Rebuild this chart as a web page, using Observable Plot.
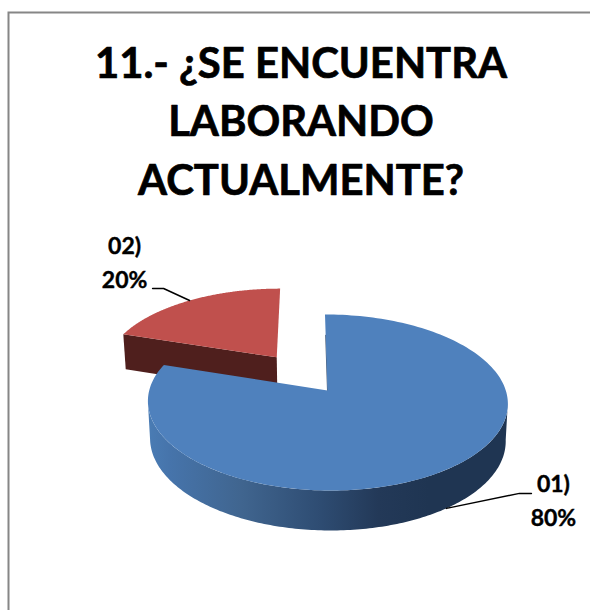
<!DOCTYPE html>
<html>
<head>
<meta charset="utf-8">
<script src="https://cdn.jsdelivr.net/npm/d3@7"></script>
<script src="https://cdn.jsdelivr.net/npm/@observablehq/plot@0.6"></script>
<style>html,body{margin:0;padding:0;background:#fff}</style>
</head>
<body>
<div id="chart"></div>
<script>
const titleLines = ["11.- ¿SE ENCUENTRA", "LABORANDO", "ACTUALMENTE?"];
const categories = ["01)", "02)"];
const values = [80, 20];
const topColors = ["#4f81bd", "#c0504d"];
const wallColors = ["url(#blueWall)", "#4f1f1d"];
const explode = [0, 0.5];

// Perspective model of the tilted pie
const apex = [327, 390], a = 178.3, b = 86.4, k = 0.136, skew = 0.033, thick = 36.9;
function project(wx, wz, lower) {
  const den = 1 + k * wz;
  const X = a * wx / den, Y = b * wz / den;
  const d = lower ? thick * Math.pow(den, -0.55) : 0;
  const f = lower ? 0.988 : 1;
  return {x: apex[0] + f * X - skew * Y, y: apex[1] - Y + d};
}
const total = d3.sum(values);
const slices = [];
let cum = 0;
values.forEach((v, i) => {
  const t0 = cum / total * 2 * Math.PI, t1 = (cum + v) / total * 2 * Math.PI;
  cum += v;
  const mid = (t0 + t1) / 2;
  slices.push({i, t0, t1, mid, ex: explode[i] * Math.sin(mid), ez: explode[i] * Math.cos(mid)});
});
const arcBetween = (s, t0, t1, lower) => d3.range(0, 181).map(j => {
  const t = t0 + (t1 - t0) * j / 180;
  return project(s.ex + Math.sin(t), s.ez + Math.cos(t), lower);
});
const arc = (s, lower) => arcBetween(s, s.t0, s.t1, lower);
const centre = (s, lower) => project(s.ex, s.ez, lower);
const edge = (s, t, r, lower) => project(s.ex + r * Math.sin(t), s.ez + r * Math.cos(t), lower);

const [blue, red] = slices;
// the visible outer wall runs between the two silhouette angles of the ellipse
const silhouette0 = Math.acos(-k), silhouette1 = 2 * Math.PI - silhouette0;
const redWall = [edge(red, red.t0, 0, false), edge(red, red.t0, 1, false), edge(red, red.t0, 1, true), edge(red, red.t0, 0, true)];
const redTop = [centre(red), ...arc(red)];
const blueWall = [...arcBetween(blue, silhouette0, silhouette1, false), ...arcBetween(blue, silhouette0, silhouette1, true).reverse()];
const blueTop = [centre(blue), ...arc(blue)];
const blueSliver = [edge(blue, blue.t0, 0, false), edge(blue, blue.t0, 0.7, false)];

const anchorBlue = edge(blue, blue.mid, 1, true);
const anchorRed = edge(red, red.mid, 1, false);
const leaderBlue = [anchorBlue, {x: anchorBlue.x + 73, y: anchorBlue.y - 15}, {x: anchorBlue.x + 85, y: anchorBlue.y - 15}];
const leaderRed = [anchorRed, {x: anchorRed.x - 26, y: anchorRed.y - 12}, {x: anchorRed.x - 37, y: anchorRed.y - 12}];

const poly = (pts, o) => Plot.line(pts, {x: "x", y: "y", curve: "linear", ...o});
const labelFont = {fontFamily: "Lato", fontWeight: 700, fontSize: 23, fill: "#000", stroke: "#000", strokeWidth: 0.4, lineAnchor: "bottom", textAnchor: "middle"};

const chart = Plot.plot({
  width: 590, height: 610, margin: 0,
  x: {domain: [0, 590], range: [0, 590], axis: null},
  y: {domain: [0, 610], range: [0, 610], axis: null},
  style: {background: "#fff", fontFamily: "Lato"},
  marks: [
    () => {
      const ns = "http://www.w3.org/2000/svg";
      const defs = document.createElementNS(ns, "defs");
      const g = document.createElementNS(ns, "linearGradient");
      g.setAttribute("id", "blueWall");
      [[0, "#4a7cb4"], [0.06, "#4674ab"], [0.26, "#40658f"], [0.48, "#2e4c72"], [0.64, "#233958"], [0.78, "#1f3552"], [1, "#1f3552"]].forEach(([o, c]) => {
        const st = document.createElementNS(ns, "stop");
        st.setAttribute("offset", o); st.setAttribute("stop-color", c);
        g.appendChild(st);
      });
      defs.appendChild(g);
      return defs;
    },
    Plot.frame({insetLeft: 8, insetTop: 12, insetRight: -6, insetBottom: -6, stroke: "#868686", strokeWidth: 2}),
    Plot.text(titleLines, {x: () => 300.5, y: (d, i) => [77, 135, 194][i], text: d => d, fontFamily: "Lato", fontWeight: 700, fontSize: 41.8, fill: "#000", stroke: "#000", strokeWidth: 0.7, lineAnchor: "bottom"}),
    poly(redWall, {fill: wallColors[1], stroke: "none"}),
    poly(redTop, {fill: topColors[1], stroke: "none"}),
    poly(blueWall, {fill: wallColors[0], stroke: "none"}),
    poly(blueSliver, {stroke: "#1f3552", strokeWidth: 1, strokeOpacity: 0.8}),
    poly(blueTop, {fill: topColors[0], stroke: "none"}),
    poly(leaderBlue, {stroke: "#000", strokeWidth: 1.5}),
    poly(leaderRed, {stroke: "#000", strokeWidth: 1.5}),
    Plot.text([`${categories[0]}`], {x: () => anchorBlue.x + 107, y: () => anchorBlue.y - 16, text: d => d, ...labelFont}),
    Plot.text([`${values[0]}%`], {x: () => anchorBlue.x + 107, y: () => anchorBlue.y + 18, text: d => d, ...labelFont}),
    Plot.text([`${categories[1]}`], {x: () => anchorRed.x - 65, y: () => anchorRed.y - 47, text: d => d, ...labelFont}),
    Plot.text([`${values[1]}%`], {x: () => anchorRed.x - 65, y: () => anchorRed.y - 13, text: d => d, ...labelFont})
  ]
});
document.getElementById("chart").appendChild(chart);
</script>
</body>
</html>
